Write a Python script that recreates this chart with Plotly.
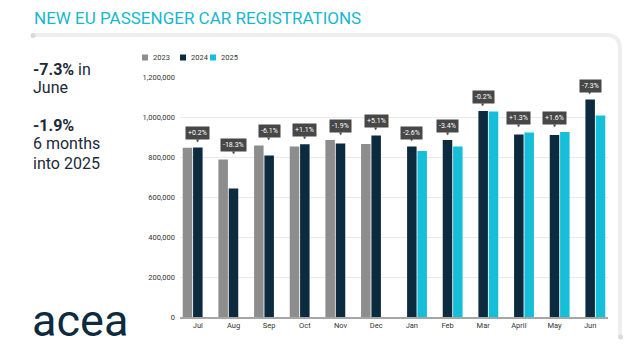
import plotly.graph_objects as go

months = ["Jul", "Aug", "Sep", "Oct", "Nov", "Dec", "Jan", "Feb", "Mar", "April", "May", "Jun"]
reg_2023 = [846000, 788000, 858000, 853000, 885000, 865000, None, None, None, None, None, None]
reg_2024 = [848000, 643000, 807000, 864000, 868000, 908000, 852000, 885000, 1030000, 912000, 910000, 1087000]
reg_2025 = [None, None, None, None, None, None, 830000, 853000, 1028000, 923000, 925000, 1007000]
pct_labels = ["+0.2%", "-18.3%", "-6.1%", "+1.1%", "-1.9%", "+5.1%",
              "-2.6%", "-3.4%", "-0.2%", "+1.3%", "+1.6%", "-7.3%"]
series_names = ["2023", "2024", "2025"]
y_ticks = [0, 200000, 400000, 600000, 800000, 1000000, 1200000]

colors = ["#8c8d8c", "#0c2b3f", "#16bfd9"]
W, H = 638, 354
ML, MR, MT, MB = 180, 30, 77, 37
PW, PH = W - ML - MR, H - MT - MB


def px(x):
    return (x - ML) / PW


def py(y):
    return (H - MB - y) / PH


fig = go.Figure()
for name, vals, col in zip(series_names, [reg_2023, reg_2024, reg_2025], colors):
    fig.add_trace(go.Bar(x=months, y=vals, name=name, marker_color=col,
                         marker_line_width=0, showlegend=False))

annotations = []
shapes = []
# percentage labels
for m, a, b, c, lab in zip(months, reg_2023, reg_2024, reg_2025, pct_labels):
    top = max(v for v in (a, b, c) if v is not None)
    annotations.append(dict(x=m, y=top, xref="x", yref="y", text=lab, showarrow=False,
                            yanchor="middle", yshift=14, bgcolor="#474747", borderpad=2,
                            font=dict(family="Roboto", size=7, color="#ffffff")))
    annotations.append(dict(x=m, y=top, xref="x", yref="y", text="▼", showarrow=False,
                            yanchor="middle", yshift=7,
                            font=dict(family="DejaVu Sans", size=4, color="#474747")))

# legend (manual, compact)
leg_x = [142, 180, 210]
for name, col, lx in zip(series_names, colors, leg_x):
    shapes.append(dict(type="rect", xref="paper", yref="paper",
                       x0=px(lx), x1=px(lx + 6), y0=py(60.5), y1=py(54.5),
                       fillcolor=col, line=dict(width=0)))
    annotations.append(dict(x=px(lx + 8.5), y=py(57.5), xref="paper", yref="paper",
                            xanchor="left", yanchor="middle", showarrow=False,
                            text=name,
                            font=dict(family="Roboto", size=7.5, color="#333333")))

# title
annotations.append(dict(x=px(32), y=py(18), xref="paper", yref="paper", xanchor="left",
                        yanchor="middle", showarrow=False,
                        text="NEW EU PASSENGER CAR REGISTRATIONS",
                        font=dict(family="Roboto", size=17, color="#18b7cf")))

# left side key figures
side_lines = [("<b>-7.3%</b> in", 69.5), ("June", 87.2), ("<b>-1.9%</b>", 125.5),
              ("6 months", 143.8), ("into 2025", 163.7)]
for txt, yy in side_lines:
    annotations.append(dict(x=px(31), y=py(yy), xref="paper", yref="paper", xanchor="left",
                            yanchor="middle", showarrow=False, text=txt,
                            font=dict(family="Roboto", size=16, color="#1b2a38")))

# logo text
annotations.append(dict(x=px(30), y=py(320), xref="paper", yref="paper", xanchor="left",
                        yanchor="middle", showarrow=False, text="acea",
                        font=dict(family="Roboto", size=45, color="#0c2b3f")))

# card border line
path = (f"M {px(33)},{py(35)} L {px(606)},{py(35)} "
        f"Q {px(620)},{py(35)} {px(620)},{py(49)} L {px(620)},{py(337)}")
shapes.append(dict(type="path", path=path, xref="paper", yref="paper",
                   line=dict(color="#eeeeee", width=4), layer="below"))
for cx, cy in [(33, 35.5), (620.5, 337)]:
    shapes.append(dict(type="circle", xref="paper", yref="paper",
                       x0=px(cx - 2.5), x1=px(cx + 2.5), y0=py(cy + 2.5), y1=py(cy - 2.5),
                       fillcolor="#d9d9d9", line=dict(width=0)))

fig.update_layout(
    width=W, height=H,
    margin=dict(l=ML, r=MR, t=MT, b=MB, pad=0),
    paper_bgcolor="#ffffff", plot_bgcolor="#ffffff",
    barmode="group", bargap=0.13, bargroupgap=0.08,
    annotations=annotations, shapes=shapes,
    font=dict(family="Roboto", color="#333333"),
    xaxis=dict(type="category", showgrid=False, tickfont=dict(size=7.5, color="#333333"),
               ticks="", showline=True, linecolor="#a6a6a6", linewidth=1.5,
               range=[-0.5, 11.5]),
    yaxis=dict(range=[0, 1200000], tickvals=y_ticks, tickformat=",",
               showgrid=True, gridcolor="#e9e9e9", gridwidth=1, zeroline=False,
               tickfont=dict(size=7.5, color="#333333"), ticks="", ticklabelstandoff=4),
)

fig.write_html("out.html")
